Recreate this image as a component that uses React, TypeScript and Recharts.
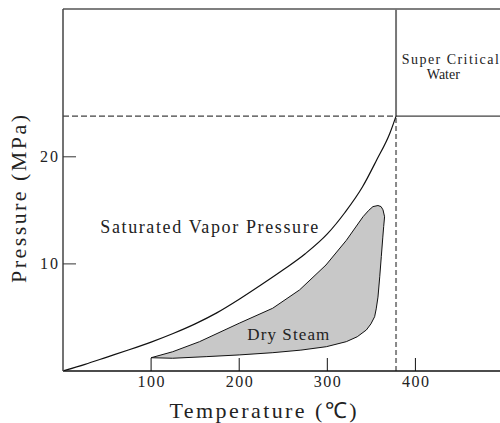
import React from 'react';
import {
  ComposedChart,
  Line,
  Scatter,
  XAxis,
  YAxis,
  ReferenceLine,
  ReferenceDot,
  Curve,
} from 'recharts';

// saturated vapor pressure curve (°C, MPa)
const satTemp = [0, 25, 50, 75, 100, 125, 150, 175, 200, 225, 250, 275, 300, 320, 340, 356, 371, 378];
const satPres = [0, 0.62, 1.3, 1.98, 2.7, 3.5, 4.4, 5.45, 6.7, 8.05, 9.45, 10.95, 12.8, 14.8, 17.2, 19.7, 22.2, 23.8];

// dry steam region outline, walked round clockwise
const steamTemp = [
  100, 124.5, 155, 200, 238, 268.5, 298.5, 321.6, 340.5, 347, 351.8, 357.5, 361, 363.2, 365,
  364, 363, 361.3, 359.5, 357.5, 355.5, 353.7, 349.5, 344.3, 334, 321.6, 298.9, 270, 238.2, 200, 162.5, 124.5,
];
const steamPres = [
  1.24, 1.8, 2.74, 4.46, 5.86, 7.57, 9.9, 12.2, 14.4, 15.0, 15.35, 15.45, 15.35, 15.05, 14.4,
  13.5, 12.5, 10.7, 8.8, 6.9, 5.8, 5.07, 4.4, 3.83, 3.2, 2.74, 2.27, 1.95, 1.71, 1.5, 1.34, 1.19,
];

const xTicks = [100, 200, 300, 400];
const yTicks = [10, 20];

const critTemp = 378;
const critPres = 23.8;
const xMax = 496;
const yMax = 33.8;

const satData = satTemp.map((t, i) => ({ t, p: satPres[i] }));
const steamData = steamTemp.map((t, i) => ({ t, p: steamPres[i] }));

const FONT = '"Liberation Serif", "Times New Roman", serif';

/* ------------------------------------------------------------------ */
/*  Ticks and labels                                                   */
/* ------------------------------------------------------------------ */

function XTick({ x, y, payload }: any) {
  return (
    <g>
      <line x1={x} y1={y} x2={x} y2={y - 13} stroke="#111" strokeWidth={1} />
      <text x={x} y={y + 16} textAnchor="middle" fontFamily={FONT} fontSize={16} fill="#222"
        textLength={27} lengthAdjust="spacing">
        {payload.value}
      </text>
    </g>
  );
}

function YTick({ x, y, payload }: any) {
  return (
    <g>
      <line x1={x} y1={y} x2={x + 13} y2={y} stroke="#333" strokeWidth={1} />
      <text x={x - 5} y={y + 5} textAnchor="end" fontFamily={FONT} fontSize={16} fill="#222"
        textLength={18} lengthAdjust="spacing">
        {payload.value}
      </text>
    </g>
  );
}

function note(text: string, size: number, len?: number) {
  return ({ viewBox }: any) => (
    <text x={viewBox.x} y={viewBox.y} textAnchor="middle" fontFamily={FONT} fontSize={size}
      fill="#222" textLength={len} lengthAdjust={len ? 'spacing' : undefined}>
      {text}
    </text>
  );
}

const xLabel = ({ viewBox }: any) => (
  <text x={viewBox.x + 200} y={viewBox.y + 47} textAnchor="middle" fontFamily={FONT}
    fontSize={22} fill="#222" textLength={187} lengthAdjust="spacing">
    Temperature (℃)
  </text>
);

const yLabel = ({ viewBox }: any) => {
  const cx = 26;
  const cy = viewBox.y + 190;
  return (
    <text x={cx} y={cy} textAnchor="middle" fontFamily={FONT} fontSize={22} fill="#222"
      textLength={168} lengthAdjust="spacing" transform={`rotate(-90, ${cx}, ${cy})`}>
      Pressure (MPa)
    </text>
  );
};

/* ------------------------------------------------------------------ */
/*  Main Component                                                     */
/* ------------------------------------------------------------------ */

export default function App() {
  return (
    <div style={{ position: 'absolute', left: 0, top: 0, background: '#fff' }}>
      <ComposedChart width={500} height={423} margin={{ top: 9, right: 0, bottom: 0, left: 0 }}>
        <XAxis
          dataKey="t"
          type="number"
          domain={[0, xMax]}
          ticks={xTicks}
          allowDataOverflow
          height={52}
          tickSize={0}
          tickMargin={0}
          tickLine={false}
          tick={<XTick />}
          axisLine={{ stroke: '#111', strokeWidth: 1.5 }}
          label={xLabel}
        />
        <YAxis
          type="number"
          domain={[0, yMax]}
          ticks={yTicks}
          allowDataOverflow
          width={63}
          tickSize={0}
          tickMargin={0}
          tickLine={false}
          tick={<YTick />}
          axisLine={{ stroke: '#444', strokeWidth: 1.5 }}
          label={yLabel}
        />

        {/* frame top + critical point lines */}
        <ReferenceLine y={yMax} stroke="#555" strokeWidth={1.5} />
        <ReferenceLine segment={[{ x: 0, y: critPres }, { x: critTemp, y: critPres }]}
          stroke="#111" strokeDasharray="6 3" />
        <ReferenceLine segment={[{ x: critTemp, y: 0 }, { x: critTemp, y: critPres }]}
          stroke="#888" strokeWidth={2} strokeDasharray="5 3" />
        <ReferenceLine segment={[{ x: critTemp, y: critPres }, { x: critTemp, y: yMax }]}
          stroke="#777" strokeWidth={2} />
        <ReferenceLine segment={[{ x: critTemp, y: critPres }, { x: xMax, y: critPres }]}
          stroke="#111" strokeWidth={1} />

        <Scatter
          data={steamData}
          dataKey="p"
          isAnimationActive={false}
          shape={() => <g />}
          line={(p: any) => (
            <Curve {...p} type="linearClosed" fill="#c8c8c8" stroke="#111" strokeWidth={1} />
          )}
        />
        <Line
          data={satData}
          dataKey="p"
          type="monotone"
          stroke="#111"
          strokeWidth={1.2}
          dot={false}
          isAnimationActive={false}
        />

        <ReferenceDot x={166} y={12.93} r={0} stroke="none"
          label={note('Saturated Vapor Pressure', 18, 218)} />
        <ReferenceDot x={255.7} y={2.89} r={0} stroke="none"
          label={note('Dry Steam', 17, 82)} />
        <ReferenceDot x={439.6} y={28.64} r={0} stroke="none"
          label={note('Super Critical', 14, 97)} />
        <ReferenceDot x={431.7} y={27.26} r={0} stroke="none"
          label={note('Water', 14)} />
      </ComposedChart>
    </div>
  );
}
